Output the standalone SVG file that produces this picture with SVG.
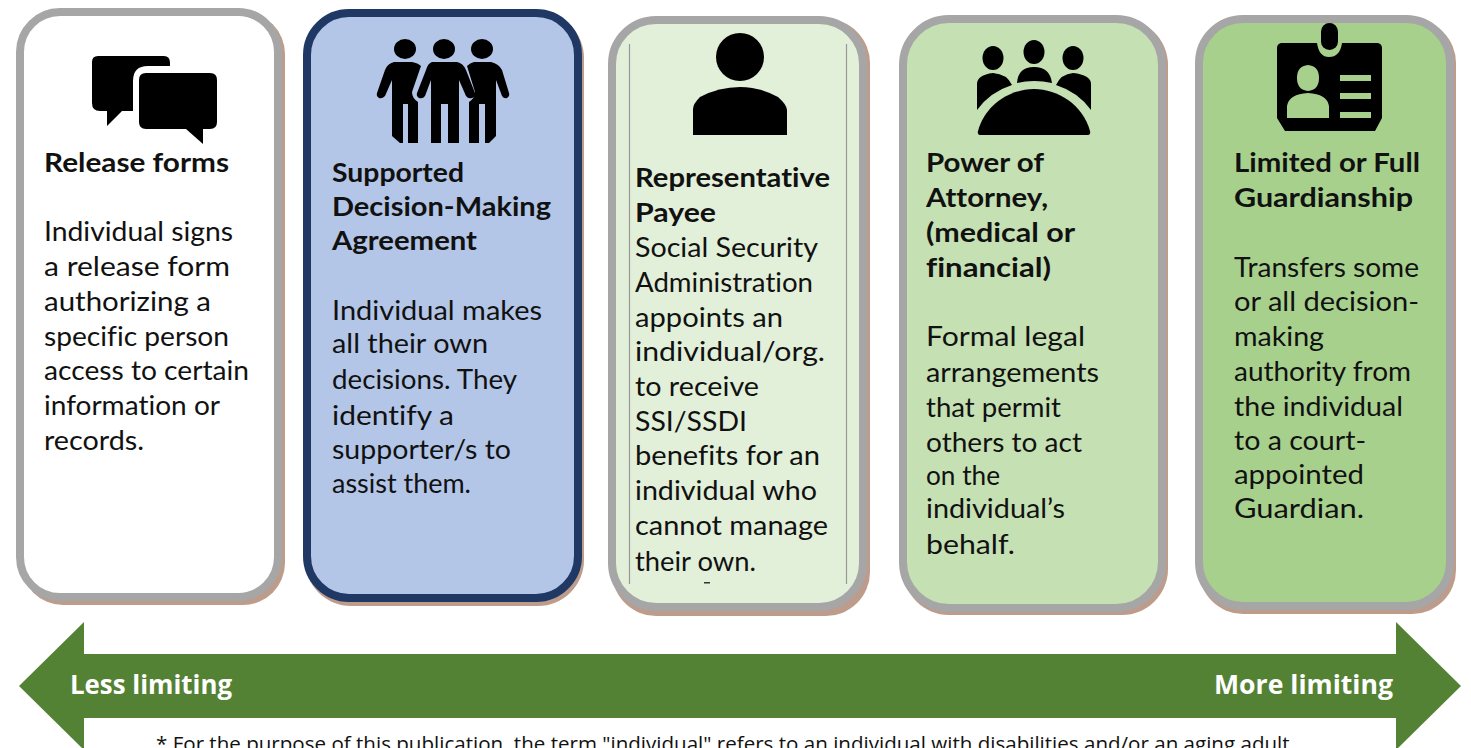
<svg xmlns="http://www.w3.org/2000/svg" width="1471" height="748" viewBox="0 0 1471 748">
<style>
.b{stroke-width:8}
.g{stroke:#a6a6a6}
.s{fill:#bd9c8b}
text{font-family:"Lato","Liberation Sans",sans-serif;fill:#111;font-variant-ligatures:none;font-size:27px}
.t{font-weight:700}
.w{font-weight:700;fill:#fff;font-family:"Open Sans","Liberation Sans",sans-serif}
</style>
<rect width="1471" height="748" fill="#fff"/>
<g id="node-release">
<rect class="s" x="21" y="12" width="264" height="593" rx="42"/>
<rect class="b g" x="20" y="12" width="258" height="585" rx="40" fill="#fff"/>
<path d="M92 62Q92 56 98 56H164Q170 56 170 63V66H148Q133 66 133 81V111H122L107 126V111H100Q92 111 92 103Z"/>
<path d="M139 80Q139 73 146 73H210Q217 73 217 80V122Q217 129 210 129H203V144L186 129H146Q139 129 139 122Z"/>
<text class="t" x="44" y="172" textLength="185" lengthAdjust="spacingAndGlyphs">Release forms</text>
<text x="44" y="241" textLength="189" lengthAdjust="spacingAndGlyphs">Individual signs</text>
<text x="44" y="276" textLength="186" lengthAdjust="spacingAndGlyphs">a release form</text>
<text x="44" y="311" textLength="167" lengthAdjust="spacingAndGlyphs">authorizing a</text>
<text x="44" y="346" textLength="185" lengthAdjust="spacingAndGlyphs">specific person</text>
<text x="44" y="380" textLength="205" lengthAdjust="spacingAndGlyphs">access to certain</text>
<text x="44" y="415" textLength="176" lengthAdjust="spacingAndGlyphs">information or</text>
<text x="44" y="450" textLength="100" lengthAdjust="spacingAndGlyphs">records.</text>
</g>
<g id="node-supported">
<rect class="s" x="305" y="12" width="279" height="594" rx="46"/>
<rect class="b" x="307" y="13" width="271" height="585" rx="42" fill="#b3c6e7" stroke="#1f3864"/>
<ellipse cx="405" cy="49" rx="11" ry="10"/><ellipse cx="444" cy="49" rx="11" ry="10"/><ellipse cx="482" cy="49" rx="11" ry="10"/>
<path d="M394 62H412Q418 63 421 66L412 92Q412 98 418 102V143H408V104H403V143H400L392 136V80L385 96Q382 99 379 98Q376 96 377 93L385 70Q387 64 394 62Z"/>
<path d="M432 62H457Q463 63 466 70L475 93Q476 97 472 98Q468 99 466 96L459 80V143H448V104H441V143H431V80L425 96Q423 99 419 98Q416 96 417 93L426 70Q428 63 432 62Z"/>
<path d="M474 62H491Q499 64 502 70L509 93Q510 96 507 98Q504 99 502 96L496 80V136L489 143H485V104H479V143H469V102Q475 98 475 92L467 66Q470 63 474 62Z"/>
<text class="t" x="332" y="182" textLength="132" lengthAdjust="spacingAndGlyphs">Supported</text>
<text class="t" x="332" y="216" textLength="219" lengthAdjust="spacingAndGlyphs">Decision-Making</text>
<text class="t" x="332" y="250" textLength="145" lengthAdjust="spacingAndGlyphs">Agreement</text>
<text x="332" y="320" textLength="210" lengthAdjust="spacingAndGlyphs">Individual makes</text>
<text x="332" y="353" textLength="156" lengthAdjust="spacingAndGlyphs">all their own</text>
<text x="332" y="389" textLength="185" lengthAdjust="spacingAndGlyphs">decisions. They</text>
<text x="332" y="425" textLength="122" lengthAdjust="spacingAndGlyphs">identify a</text>
<text x="332" y="459" textLength="179" lengthAdjust="spacingAndGlyphs">supporter/s to</text>
<text x="332" y="493" textLength="139" lengthAdjust="spacingAndGlyphs">assist them.</text>
</g>
<g id="node-payee">
<rect class="s" x="612" y="19" width="258" height="597" rx="44"/>
<rect class="b g" x="612" y="20" width="251" height="587" rx="44" fill="#e2efd9"/>
<path d="M629.500 44V584M846.500 44V584" stroke="#999" stroke-width="1.200" fill="none"/>
<ellipse cx="740" cy="57" rx="24" ry="24"/>
<path d="M693 135V109Q693 104 700 97Q719 87 740 87Q760 87 778 97Q787 105 787 110V135Z"/>
<text class="t" x="635" y="187" textLength="195" lengthAdjust="spacingAndGlyphs">Representative</text>
<text class="t" x="635" y="222" textLength="81" lengthAdjust="spacingAndGlyphs">Payee</text>
<text x="635" y="257" textLength="183" lengthAdjust="spacingAndGlyphs">Social Security</text>
<text x="635" y="292" textLength="178" lengthAdjust="spacingAndGlyphs">Administration</text>
<text x="635" y="327" textLength="148" lengthAdjust="spacingAndGlyphs">appoints an</text>
<text x="635" y="361" textLength="190" lengthAdjust="spacingAndGlyphs">individual/org.</text>
<text x="635" y="396" textLength="124" lengthAdjust="spacingAndGlyphs">to receive</text>
<text x="635" y="431" textLength="112" lengthAdjust="spacingAndGlyphs">SSI/SSDI</text>
<text x="635" y="465" textLength="185" lengthAdjust="spacingAndGlyphs">benefits for an</text>
<text x="635" y="500" textLength="182" lengthAdjust="spacingAndGlyphs">individual who</text>
<text x="635" y="535" textLength="193" lengthAdjust="spacingAndGlyphs">cannot manage</text>
<text x="635" y="571" textLength="121" lengthAdjust="spacingAndGlyphs">their own.</text>
<rect x="704" y="582" width="6" height="1.500" fill="#333"/>
</g>
<g id="node-poa">
<rect class="s" x="903" y="19" width="265" height="596" rx="46"/>
<rect class="b g" x="903" y="19" width="259" height="589" rx="46" fill="#c5e0b3"/>
<ellipse cx="993" cy="58" rx="10.500" ry="12"/><ellipse cx="1034" cy="52" rx="10.500" ry="12"/><ellipse cx="1073" cy="58" rx="10.500" ry="12"/>
<path d="M977 110V84Q977 75 993 73Q1007 74 1012 85Q990 92 977 110Z"/>
<path d="M1017 83Q1018 67 1034 67Q1050 67 1052 83Q1034 79 1017 83Z"/>
<path d="M1091 110V84Q1091 75 1073 73Q1061 74 1056 85Q1078 92 1091 110Z"/>
<path d="M978 131C985 105 1010 89 1034 89C1058 89 1083 105 1090 131Q1091 135 1087 135H981Q977 135 978 131Z"/>
<text class="t" x="926" y="172" textLength="118" lengthAdjust="spacingAndGlyphs">Power of</text>
<text class="t" x="926" y="207" textLength="122" lengthAdjust="spacingAndGlyphs">Attorney,</text>
<text class="t" x="926" y="242" textLength="149" lengthAdjust="spacingAndGlyphs">(medical or</text>
<text class="t" x="926" y="277" textLength="125" lengthAdjust="spacingAndGlyphs">financial)</text>
<text x="926" y="346" textLength="159" lengthAdjust="spacingAndGlyphs">Formal legal</text>
<text x="926" y="382" textLength="173" lengthAdjust="spacingAndGlyphs">arrangements</text>
<text x="926" y="417" textLength="135" lengthAdjust="spacingAndGlyphs">that permit</text>
<text x="926" y="452" textLength="156" lengthAdjust="spacingAndGlyphs">others to act</text>
<text x="926" y="485" textLength="74" lengthAdjust="spacingAndGlyphs">on the</text>
<text x="926" y="518" textLength="139" lengthAdjust="spacingAndGlyphs">individual’s</text>
<text x="926" y="554" textLength="89" lengthAdjust="spacingAndGlyphs">behalf.</text>
</g>
<g id="node-guardianship">
<rect class="s" x="1199" y="19" width="257" height="595" rx="44"/>
<rect class="b g" x="1199" y="19" width="251" height="587" rx="44" fill="#a8d08d"/>
<path fill-rule="evenodd" d="M1281 43H1317Q1319 57 1329 57Q1340 57 1342 43H1378Q1382 44 1382 48V118L1375 131H1285L1277 118V48Q1277 44 1281 43ZM1287 118H1329V106Q1327 94 1308 93Q1289 94 1287 106ZM1308 65Q1297 66 1297 78Q1297 90 1308 91Q1319 90 1319 78Q1319 66 1308 65ZM1340 75V81H1371V75ZM1340 93V99H1371V93ZM1340 112V118H1371V112Z"/>
<rect x="1321" y="23" width="17" height="27" rx="8.500"/>
<text class="t" x="1234" y="172" textLength="186" lengthAdjust="spacingAndGlyphs">Limited or Full</text>
<text class="t" x="1234" y="207" textLength="179" lengthAdjust="spacingAndGlyphs">Guardianship</text>
<text x="1234" y="277" textLength="185" lengthAdjust="spacingAndGlyphs">Transfers some</text>
<text x="1234" y="311" textLength="185" lengthAdjust="spacingAndGlyphs">or all decision-</text>
<text x="1234" y="346" textLength="90" lengthAdjust="spacingAndGlyphs">making</text>
<text x="1234" y="381" textLength="177" lengthAdjust="spacingAndGlyphs">authority from</text>
<text x="1234" y="416" textLength="169" lengthAdjust="spacingAndGlyphs">the individual</text>
<text x="1234" y="450" textLength="132" lengthAdjust="spacingAndGlyphs">to a court-</text>
<text x="1234" y="484" textLength="130" lengthAdjust="spacingAndGlyphs">appointed</text>
<text x="1234" y="518" textLength="130" lengthAdjust="spacingAndGlyphs">Guardian.</text>
</g>
<g id="connectors">
<path id="scale-arrow" fill="#548235" d="M19 686L84 622V654H1396V622L1461 686L1396 750V718H84V750Z"/>
</g>
<text class="w" x="70" y="694" textLength="162" lengthAdjust="spacingAndGlyphs">Less limiting</text>
<text class="w" x="1214" y="694" textLength="179" lengthAdjust="spacingAndGlyphs">More limiting</text>
<text x="156" y="751" font-size="20" style="font-family:'Open Sans','Liberation Sans',sans-serif;font-size:20px" textLength="1139" lengthAdjust="spacingAndGlyphs">* For the purpose of this publication, the term "individual" refers to an individual with disabilities and/or an aging adult.</text>
</svg>
